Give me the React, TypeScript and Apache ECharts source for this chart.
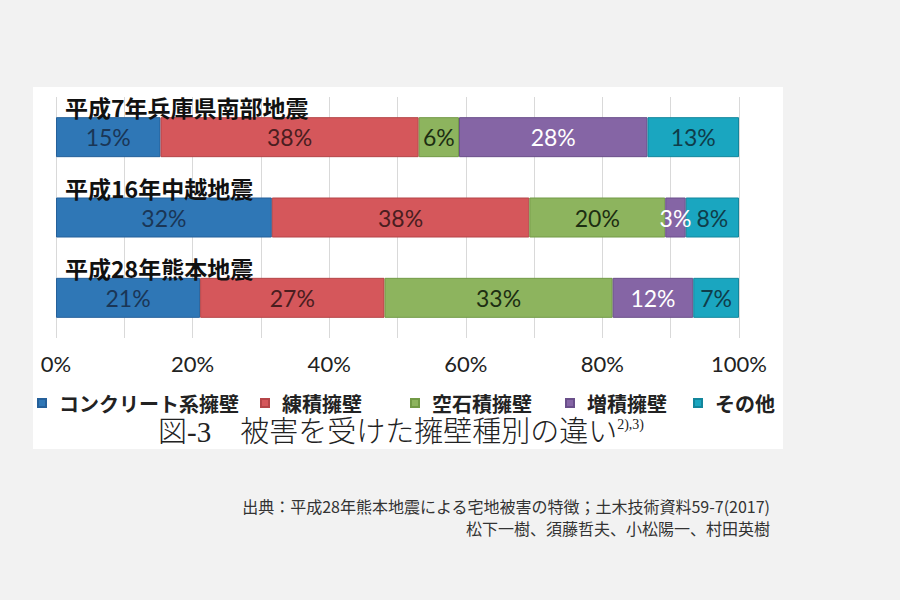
import React, { useEffect, useRef } from "react";
import * as echarts from "echarts";

// ---- data ----
const categories = ["平成7年兵庫県南部地震", "平成16年中越地震", "平成28年熊本地震"];
const seriesNames = ["コンクリート系擁壁", "練積擁壁", "空石積擁壁", "増積擁壁", "その他"];
const concreteWall = [15.3, 31.6, 21.1];
const masonryWall = [37.8, 37.7, 27.0];
const dryStoneWall = [5.9, 19.9, 33.4];
const extendedWall = [27.6, 3.0, 11.8];
const otherWall = [13.4, 7.8, 6.7];
const xTickValues = [0, 20, 40, 60, 80, 100];
const captionText = "図-3　被害を受けた擁壁種別の違い";
const captionRefText = "2),3)";
const sourceLines = [
  "出典：平成28年熊本地震による宅地被害の特徴；土木技術資料59-7(2017)",
  "松下一樹、須藤哲夫、小松陽一、村田英樹",
];

// ---- styles ----
const barColors = ["#2f77b6", "#d5575b", "#8db45e", "#8565a5", "#1aa6c0"];
const borderColors = ["#25609a", "#b54548", "#729a46", "#6a4f8a", "#13869c"];
const labelColors = ["#1a3656", "#4a1d1f", "#1d2e12", "#ffffff", "#0f3d4a"];
const legendLefts = [37, 260, 410, 565, 693];
const CJK = "'Noto Sans CJK JP', 'Noto Sans', sans-serif";

export default function App() {
  const ref = useRef<HTMLDivElement>(null);
  useEffect(() => {
    document.body.style.margin = "0";
    if (!ref.current) return;
    const chart = echarts.init(ref.current, undefined, { renderer: "svg" });
    const seriesData = [concreteWall, masonryWall, dryStoneWall, extendedWall, otherWall];
    chart.setOption({
      animation: false,
      backgroundColor: "#f2f2f2",
      grid: { left: 56, right: 161, top: 97, bottom: 262, containLabel: false },
      xAxis: {
        type: "value",
        min: 0,
        max: 100,
        interval: 10,
        axisLine: { show: false },
        axisTick: { show: false },
        splitLine: { show: true, lineStyle: { color: "#d9d9d9", width: 1 } },
        axisLabel: {
          formatter: (v: number) => (xTickValues.indexOf(v) >= 0 ? v + "%" : ""),
          fontSize: 22,
          fontFamily: "Lato, 'Open Sans', sans-serif",
          color: "#222",
          margin: 14,
        },
      },
      yAxis: {
        type: "category",
        data: categories,
        inverse: true,
        axisLine: { show: false },
        axisTick: { show: false },
        splitLine: { show: false },
        axisLabel: {
          inside: true,
          margin: 9,
          verticalAlign: "middle",
          formatter: (v: string) => "{t|" + v + "}\n{s| }",
          rich: {
            t: {
              fontSize: 23,
              fontWeight: "bold",
              fontFamily: CJK,
              color: "#111",
              lineHeight: 24,
            },
            s: { fontSize: 10, lineHeight: 60 },
          },
        },
        z: 5,
      },
      legend: seriesNames.map((n, i) => ({
        data: [n],
        left: legendLefts[i],
        top: 393,
        padding: 0,
        icon: "rect",
        itemWidth: 8,
        itemHeight: 8,
        selectedMode: false,
        textStyle: {
          fontSize: 20,
          fontWeight: "bold",
          fontFamily: CJK,
          color: "#222",
          lineHeight: 20,
          padding: [0, 0, 0, 8],
        },
      })),
      series: seriesNames.map((n, i) => ({
        name: n,
        type: "bar",
        stack: "total",
        barWidth: 40,
        data: seriesData[i],
        itemStyle: { color: barColors[i], borderColor: borderColors[i], borderWidth: 1 },
        label: {
          show: true,
          position: "inside",
          formatter: (p: any) => Math.round(p.value) + "%",
          fontSize: 23,
          fontFamily: "Lato, 'Open Sans', sans-serif",
          color: labelColors[i],
        },
      })),
      graphic: [
        {
          type: "rect",
          z: -10,
          shape: { x: 33, y: 87, width: 750, height: 362 },
          style: { fill: "#ffffff" },
        },
        {
          type: "text",
          x: 158,
          y: 432,
          style: {
            text: captionText + "{sup|" + captionRefText + "}",
            fontSize: 29,
            fontWeight: 300,
            fontFamily: "'Liberation Serif', 'Noto Sans CJK JP', serif",
            fill: "#222",
            verticalAlign: "middle",
            rich: {
              sup: {
                fontSize: 14,
                fontFamily: "'Liberation Serif', serif",
                fill: "#222",
                verticalAlign: "top",
              },
            },
          },
        },
        ...sourceLines.map((t, i) => ({
          type: "text",
          x: 770,
          y: 506 + i * 22,
          style: {
            text: t,
            fontSize: 16,
            fontFamily: CJK,
            fill: "#333",
            align: "right",
            verticalAlign: "middle",
          },
        })),
      ],
    });
    return () => chart.dispose();
  }, []);
  return (
    <div
      ref={ref}
      style={{ position: "absolute", left: 0, top: 0, width: 900, height: 600 }}
    />
  );
}
